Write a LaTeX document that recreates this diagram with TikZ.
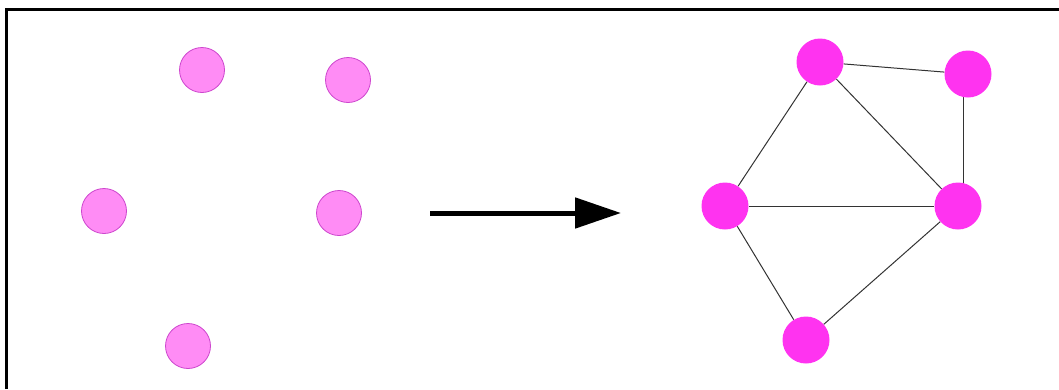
\documentclass[tikz,border=0pt]{standalone}
\usetikzlibrary{arrows.meta,backgrounds}
\definecolor{lightfill}{RGB}{255,140,245}
\definecolor{lightedge}{RGB}{205,70,205}
\definecolor{darkfill}{RGB}{255,51,240}
\tikzset{
  lightnode/.style={circle,fill=lightfill,draw=lightedge,line width=0.8pt,minimum size=45pt,inner sep=0pt},
  darknode/.style={circle,fill=darkfill,draw=none,minimum size=47pt,inner sep=0pt},
  edge/.style={line width=1pt,draw=black!80},
  bigarrow/.style={line width=5pt,-{Triangle[length=46pt,width=30pt]}}
}
\begin{document}
\begin{tikzpicture}[x=1pt,y=-1pt]
\useasboundingbox (0,0) rectangle (1059,389);
\draw[line width=3pt] (6.5,389) -- (6.5,9.5) -- (1059,9.5);
\node[lightnode] (l1) at (202,70) {};
\node[lightnode] (l2) at (348,80) {};
\node[lightnode] (l3) at (104,211) {};
\node[lightnode] (l4) at (339,213) {};
\node[lightnode] (l5) at (188,346) {};
\coordinate (as) at (430,213);
\coordinate (ae) at (621,213);
\draw[bigarrow] (as) -- (ae);
\node[darknode] (a) at (820,62) {};
\node[darknode] (b) at (968,74) {};
\node[darknode] (c) at (725,206) {};
\node[darknode] (d) at (958,206) {};
\node[darknode] (e) at (806,340) {};
\begin{scope}[on background layer]
\draw[edge] (a) -- (b);
\draw[edge] (a) -- (c);
\draw[edge] (a) -- (d);
\draw[edge] ([xshift=-5pt]b.center) -- ([xshift=5pt]d.center);
\draw[edge] (c) -- (d);
\draw[edge] (c) -- (e);
\draw[edge] (d) -- (e);
\end{scope}
\end{tikzpicture}
\end{document}
